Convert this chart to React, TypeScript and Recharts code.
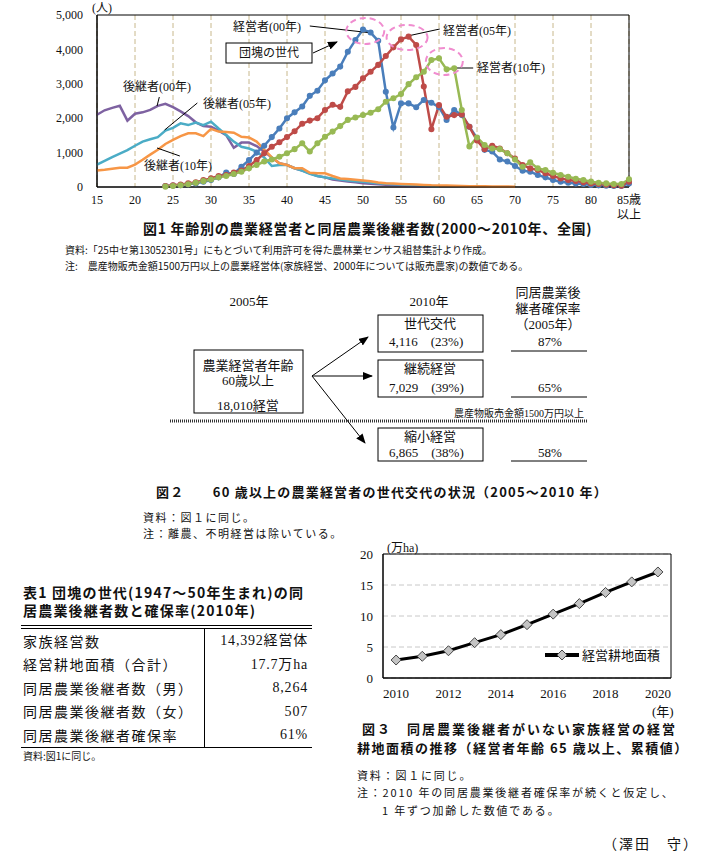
import React from 'react'
import {
  LineChart, Line, XAxis, YAxis, CartesianGrid, ReferenceArea, ReferenceLine, ReferenceDot, Legend,
} from 'recharts'

// 図1: 年齢別 (15〜85歳以上)
const ageTicks = [15, 20, 25, 30, 35, 40, 45, 50, 55, 60, 65, 70, 75, 80, 85]
const succ00Start = 15
const succ00 = [2100, 2230, 2300, 2360, 1930, 2130, 2170, 2240, 2360, 2420, 2320, 2200, 2060, 1880, 1770, 1750, 1640, 1510, 1140, 1290, 1290, 1190, 1030, 860, 690, 640, 545, 475, 400, 320, 280, 220, 185, 160, 135, 110, 95, 80, 65, 50, 40, 30, 25, 20, 15]
const succ05Start = 15
const succ05 = [650, 760, 870, 970, 1070, 1200, 1320, 1390, 1450, 1640, 1720, 1850, 1800, 1870, 1800, 1900, 1700, 1510, 1320, 1170, 1120, 1030, 860, 610, 640, 640, 545, 475, 380, 320, 280, 250, 220, 190, 170, 150, 130, 110, 95, 80, 70, 60, 50, 40, 30, 20]
const succ10Start = 15
const succ10 = [480, 500, 530, 560, 560, 650, 790, 940, 1080, 1250, 1370, 1480, 1560, 1560, 1480, 1690, 1610, 1600, 1580, 1460, 1440, 1320, 1090, 860, 690, 640, 545, 545, 415, 400, 400, 320, 250, 230, 210, 190, 170, 130, 110, 100, 90, 80, 70, 60, 50, 45, 40, 35, 30, 25, 22, 20, 18, 15, 12, 10]
const mgr00Start = 24
const mgr00 = [30, 40, 50, 80, 105, 155, 200, 280, 420, 380, 590, 780, 1000, 1200, 1450, 1700, 2000, 2170, 2340, 2650, 2800, 3100, 3300, 3500, 3930, 4270, 4580, 4490, 4250, 2770, 1730, 2430, 2430, 2320, 2530, 2450, 2320, 1950, 2240, 2090, 1750, 1420, 1080, 1030, 800, 740, 610, 475, 445, 350, 280, 205, 155, 125, 105, 87, 58, 48, 39, 29, 29, 105]
const mgr05Start = 24
const mgr05 = [30, 50, 70, 105, 135, 200, 250, 320, 350, 420, 475, 610, 780, 980, 1170, 1300, 1450, 1620, 1840, 1930, 2000, 2240, 2390, 2330, 2780, 2910, 3160, 3350, 3550, 3810, 4060, 4290, 4370, 4130, 2920, 1680, 2380, 2040, 2090, 2110, 1750, 1350, 1100, 1200, 1120, 980, 830, 640, 540, 495, 400, 320, 250, 205, 175, 135, 105, 87, 68, 48, 39, 155]
const mgr10Start = 24
const mgr10 = [10, 30, 50, 80, 120, 170, 220, 280, 320, 380, 445, 545, 640, 740, 800, 880, 980, 1100, 1270, 1030, 1270, 1460, 1610, 1770, 1950, 2020, 2090, 2160, 2260, 2480, 2580, 2700, 2990, 3190, 3350, 3690, 3740, 3420, 3450, 2240, 1180, 1440, 1220, 1120, 1100, 980, 800, 590, 720, 540, 495, 415, 350, 300, 240, 205, 155, 125, 105, 87, 87, 225]

// 図3: 経営耕地面積 (万ha)
const years = [2010, 2011, 2012, 2013, 2014, 2015, 2016, 2017, 2018, 2019, 2020]
const areaValues = [2.9, 3.5, 4.4, 5.7, 7.0, 8.6, 10.3, 12.0, 13.8, 15.5, 17.1]
const yearTicks = [2010, 2012, 2014, 2016, 2018, 2020]

// 表1
const tableRows = [
  ['家族経営数', '14,392経営体'],
  ['経営耕地面積（合計）', '17.7万ha'],
  ['同居農業後継者数（男）', '8,264'],
  ['同居農業後継者数（女）', '507'],
  ['同居農業後継者確保率', '61%'],
]

const serif = "'Liberation Serif','Noto Sans CJK JP',serif"
const gothic = "'Noto Sans CJK JP','DejaVu Sans',sans-serif"

const pick = (arr: number[], start: number, age: number) => {
  const i = age - start
  return i >= 0 && i < arr.length ? arr[i] : null
}

const fig1Data = Array.from({ length: 71 }, (_, i) => {
  const age = 15 + i
  return {
    age,
    succ00: pick(succ00, succ00Start, age),
    succ05: pick(succ05, succ05Start, age),
    succ10: pick(succ10, succ10Start, age),
    mgr00: pick(mgr00, mgr00Start, age),
    mgr05: pick(mgr05, mgr05Start, age),
    mgr10: pick(mgr10, mgr10Start, age),
  }
})

const fig3Data = years.map((y, i) => ({ year: y, area: areaValues[i] }))

function T({ x, y, size = 12, anchor = 'start', bold = false, family = serif, spacing = 0, children }: any) {
  const tx = anchor === 'middle' ? 'translateX(-50%)' : anchor === 'end' ? 'translateX(-100%)' : 'none'
  return (
    <div style={{
      position: 'absolute', left: x, top: y - size * 0.6, fontSize: size, lineHeight: `${size * 1.2}px`,
      whiteSpace: 'nowrap', fontFamily: family, fontWeight: bold ? 700 : 400, letterSpacing: spacing,
      transform: tx, color: '#111',
    }}>{children}</div>
  )
}

const pinkEllipse = (rx: number, ry: number) => (p: any) => (
  <ellipse cx={p.cx} cy={p.cy} rx={rx} ry={ry} fill="none" stroke="#f08ccf" strokeWidth={2} strokeDasharray="6 4" />
)

const AgeTick = (p: any) => {
  const v = p.payload.value
  return (
    <g>
      <text x={p.x} y={p.y} dy="0.71em" textAnchor="middle" fontSize={12} fontFamily={serif} fill="#111">
        {v === 85 ? '85歳' : v}
      </text>
      {v === 85 && (
        <text x={p.x} y={p.y + 15} dy="0.71em" textAnchor="middle" fontSize={12} fontFamily={serif} fill="#111">以上</text>
      )}
    </g>
  )
}

const Diamond = (p: any) => {
  const { cx, cy } = p
  if (cx == null || cy == null) return <g key={p.index} />
  const s = 5
  return (
    <polygon key={p.index} points={`${cx},${cy - s} ${cx + s},${cy} ${cx},${cy + s} ${cx - s},${cy}`}
      fill="#c4c4c4" stroke="#444" strokeWidth={1} />
  )
}

const leaders: [number, number, number, number][] = [
  [43.0, 4680, 51.2, 4477],
  [55.9, 4390, 60.1, 4593],
  [62.1, 3459, 64.5, 3459],
  [23.2, 2616, 22.9, 2355],
  [28.2, 2442, 23.9, 1657],
  [25.9, 901, 22.9, 1134],
]

function Figure1() {
  return (
    <div style={{ position: 'absolute', left: 0, top: 0 }}>
      <LineChart width={705} height={230} data={fig1Data} margin={{ top: 15, right: 76, left: 37, bottom: 0 }}>
        <CartesianGrid horizontal={false} stroke="#c8b88c" strokeDasharray="5 3" />
        <XAxis dataKey="age" type="number" domain={[15, 85]} ticks={ageTicks} interval={0} height={43}
          tickSize={0} tickMargin={8} tick={AgeTick} axisLine={{ stroke: '#000' }} />
        <YAxis domain={[0, 5000]} ticks={[0, 1000, 2000, 3000, 4000, 5000]} width={60} tickSize={0} tickMargin={14}
          tickFormatter={(v: number) => v.toLocaleString('en-US')} axisLine={{ stroke: '#000' }}
          tick={{ fontSize: 12, fontFamily: serif, fill: '#111' }} />
        <ReferenceArea x1={15} x2={85} y1={0} y2={5000} fill="none" fillOpacity={0} stroke="#000" strokeWidth={1} />
        <Line dataKey="succ00" stroke="#7e62a1" strokeWidth={2.5} dot={false} isAnimationActive={false} />
        <Line dataKey="succ05" stroke="#4bacc6" strokeWidth={2.5} dot={false} isAnimationActive={false} />
        <Line dataKey="succ10" stroke="#f79646" strokeWidth={2.5} dot={false} isAnimationActive={false} />
        <Line dataKey="mgr00" stroke="#4a7ebb" strokeWidth={2.5} dot={{ r: 1.8, fill: '#4a7ebb', stroke: '#4a7ebb' }} isAnimationActive={false} />
        <Line dataKey="mgr05" stroke="#be4b48" strokeWidth={2.5} dot={{ r: 1.8, fill: '#be4b48', stroke: '#be4b48' }} isAnimationActive={false} />
        <Line dataKey="mgr10" stroke="#98b954" strokeWidth={2.5} dot={{ r: 1.8, fill: '#98b954', stroke: '#98b954' }} isAnimationActive={false} />
        {leaders.map((l, i) => (
          <ReferenceLine key={i} segment={[{ x: l[0], y: l[1] }, { x: l[2], y: l[3] }]} stroke="#000" strokeWidth={1} ifOverflow="visible" />
        ))}
        <ReferenceDot x={50.3} y={4535} r={1} ifOverflow="visible" shape={pinkEllipse(19, 13)} />
        <ReferenceDot x={55.8} y={4346} r={1} ifOverflow="visible" shape={pinkEllipse(20.5, 12.5)} />
        <ReferenceDot x={60.7} y={3648} r={1} ifOverflow="visible" shape={pinkEllipse(18.5, 13.5)} />
      </LineChart>
    </div>
  )
}

function Figure3() {
  return (
    <div style={{ position: 'absolute', left: 340, top: 540 }}>
      <LineChart width={360} height={165} data={fig3Data} margin={{ top: 14, right: 29, left: 8, bottom: 0 }}>
        <CartesianGrid vertical={false} stroke="#c8c8c8" strokeDasharray="5 3" />
        <XAxis dataKey="year" type="number" domain={[2009.5, 2020.5]} ticks={yearTicks} interval={0} height={27}
          tickSize={0} tickMargin={11} axisLine={{ stroke: '#000' }}
          tick={{ fontSize: 13, fontFamily: serif, fill: '#111' }} />
        <YAxis domain={[0, 20]} ticks={[0, 5, 10, 15, 20]} width={35} tickSize={0} tickMargin={10}
          axisLine={{ stroke: '#000' }} tick={{ fontSize: 13, fontFamily: serif, fill: '#111' }} />
        <ReferenceArea x1={2009.5} x2={2020.5} y1={0} y2={20} fill="none" fillOpacity={0} stroke="#000" strokeWidth={1} />
        <Line dataKey="area" name="経営耕地面積" stroke="#000" strokeWidth={3} dot={Diamond} isAnimationActive={false} />
        <Legend
          layout="horizontal" verticalAlign="middle" align="center"
          wrapperStyle={{ left: 205, top: 105, width: 130, height: 18 }}
          content={() => (
            <div style={{ display: 'flex', alignItems: 'center', fontFamily: gothic, fontSize: 13, color: '#111' }}>
              <svg width={34} height={14}>
                <line x1={0} y1={7} x2={34} y2={7} stroke="#000" strokeWidth={4} />
                <polygon points="17,2 22,7 17,12 12,7" fill="#c4c4c4" stroke="#444" />
              </svg>
              <span style={{ marginLeft: 3 }}>経営耕地面積</span>
            </div>
          )}
        />
      </LineChart>
    </div>
  )
}

function Diagram() {
  const f = { fontFamily: serif, fill: '#111' } as any
  return (
    <svg width={705} height={856} style={{ position: 'absolute', left: 0, top: 0, pointerEvents: 'none' }}>
      <defs>
        <marker id="ah" markerWidth="10" markerHeight="8" refX="9" refY="4" orient="auto" markerUnits="userSpaceOnUse">
          <polygon points="0,0 10,4 0,8" fill="#000" />
        </marker>
      </defs>
      {/* 図1 団塊の世代 */}
      <rect x={226} y={43} width={86} height={20} fill="#fff" stroke="#000" />
      <text x={269} y={57} textAnchor="middle" fontSize={12} {...f}>団塊の世代</text>
      <line x1={313} y1={53} x2={337} y2={42} stroke="#000" markerEnd="url(#ah)" />

      {/* 図2 */}
      <g fontSize={13} {...f}>
        <text x={249} y={306} textAnchor="middle">2005年</text>
        <text x={429} y={306} textAnchor="middle">2010年</text>
        <text x={548} y={297} textAnchor="middle">同居農業後</text>
        <text x={548} y={313} textAnchor="middle">継者確保率</text>
        <text x={548} y={329} textAnchor="middle">（2005年）</text>

        <rect x={378} y={315} width={105} height={37} fill="none" stroke="#000" />
        <text x={430} y={328} textAnchor="middle">世代交代</text>
        <text x={389} y={346}>4,116　(23%)</text>
        <text x={550} y={346} textAnchor="middle">87%</text>
        <line x1={511} y1={351} x2={587} y2={351} stroke="#000" />

        <rect x={378} y={360} width={105} height={37} fill="none" stroke="#000" />
        <text x={430} y={373} textAnchor="middle">継続経営</text>
        <text x={389} y={392}>7,029　(39%)</text>
        <text x={550} y={392} textAnchor="middle">65%</text>
        <line x1={511} y1={397} x2={587} y2={397} stroke="#000" />

        <rect x={194} y={350} width={109} height={63} fill="none" stroke="#000" />
        <text x={248} y={370} textAnchor="middle">農業経営者年齢</text>
        <text x={248} y={385} textAnchor="middle">60歳以上</text>
        <text x={248} y={410} textAnchor="middle">18,010経営</text>

        <line x1={170} y1={421} x2={587} y2={421} stroke="#333" strokeWidth={3} strokeDasharray="1 1" />
        <text x={584} y={417} textAnchor="end" fontSize={10}>農産物販売金額1500万円以上</text>

        <rect x={378} y={428} width={105} height={33} fill="none" stroke="#000" />
        <text x={430} y={441} textAnchor="middle">縮小経営</text>
        <text x={389} y={457}>6,865　(38%)</text>
        <text x={550} y={457} textAnchor="middle">58%</text>
        <line x1={511} y1={461} x2={587} y2={461} stroke="#000" />
      </g>
      <line x1={312} y1={376} x2={368} y2={337} stroke="#000" markerEnd="url(#ah)" />
      <line x1={312} y1={376} x2={372} y2={376} stroke="#000" markerEnd="url(#ah)" />
      <line x1={312} y1={376} x2={365} y2={443} stroke="#000" markerEnd="url(#ah)" />
    </svg>
  )
}

function Table1() {
  return (
    <div style={{ position: 'absolute', left: 21, top: 625, width: 291 }}>
      <div style={{ borderTop: '1px solid #000', height: 2, borderBottom: '1px solid #000' }} />
      {tableRows.map((r, i) => (
        <div key={i} style={{ display: 'flex', height: 23.5, alignItems: 'center', fontFamily: serif, fontSize: 14, color: '#111' }}>
          <div style={{ width: 181, paddingLeft: 2, letterSpacing: 1.5, whiteSpace: 'nowrap' }}>{r[0]}</div>
          <div style={{ flex: 1, textAlign: 'right', paddingRight: 4, borderLeft: '1px solid #000', height: '100%', lineHeight: '23.5px', letterSpacing: 0.8 }}>{r[1]}</div>
        </div>
      ))}
      <div style={{ borderTop: '1px solid #000' }} />
    </div>
  )
}

export default function App() {
  return (
    <div style={{ position: 'absolute', left: 0, top: 0, width: 705, height: 856, background: '#fff', overflow: 'hidden' }}>
      <Figure1 />
      <T x={92} y={8} size={12}>(人)</T>
      <T x={233} y={27} size={12}>経営者(00年)</T>
      <T x={443} y={31} size={12}>経営者(05年)</T>
      <T x={477} y={68} size={12}>経営者(10年)</T>
      <T x={123} y={87} size={12}>後継者(00年)</T>
      <T x={203} y={104} size={12}>後継者(05年)</T>
      <T x={144} y={166} size={12}>後継者(10年)</T>
      <T x={143} y={228} size={14} bold family={gothic} spacing={0.7}>図1 年齢別の農業経営者と同居農業後継者数(2000～2010年、全国)</T>
      <T x={65} y={250} size={10} family={gothic}>資料:「25中セ第13052301号」にもとづいて利用許可を得た農林業センサス組替集計より作成。</T>
      <T x={65} y={266} size={10} family={gothic}>注:　農産物販売金額1500万円以上の農業経営体(家族経営、2000年については販売農家)の数値である。</T>

      <Diagram />
      <T x={156} y={492} size={13} bold family={gothic} spacing={1.2}>図２　　60 歳以上の農業経営者の世代交代の状況（2005～2010 年）</T>
      <T x={143} y={518} size={11} family={gothic} spacing={1.5}>資料：図１に同じ。</T>
      <T x={143} y={534} size={11} family={gothic} spacing={1.5}>注：離農、不明経営は除いている。</T>

      <T x={23} y={592} size={14} bold family={gothic} spacing={1.2}>表1  団塊の世代(1947～50年生まれ)の同</T>
      <T x={23} y={610} size={14} bold family={gothic} spacing={1.2}>居農業後継者数と確保率(2010年)</T>
      <Table1 />
      <T x={23} y={756} size={10} family={gothic}>資料:図1に同じ。</T>

      <Figure3 />
      <T x={387} y={548} size={12}>(万ha)</T>
      <T x={652} y={712} size={13}>(年)</T>
      <T x={362} y={729} size={13} bold family={gothic} spacing={2}>図３　同居農業後継者がいない家族経営の経営</T>
      <T x={357} y={748} size={13} bold family={gothic} spacing={1.5}>耕地面積の推移（経営者年齢 65 歳以上、累積値）</T>
      <T x={357} y={776} size={11} family={gothic} spacing={1.8}>資料：図１に同じ。</T>
      <T x={357} y={793} size={11} family={gothic} spacing={1.8}>注：2010 年の同居農業後継者確保率が続くと仮定し、</T>
      <T x={382} y={811} size={11} family={gothic} spacing={1.8}>1 年ずつ加齢した数値である。</T>
      <T x={699} y={843} size={14} family={gothic} spacing={2} anchor="end">（澤田　守）</T>
    </div>
  )
}
